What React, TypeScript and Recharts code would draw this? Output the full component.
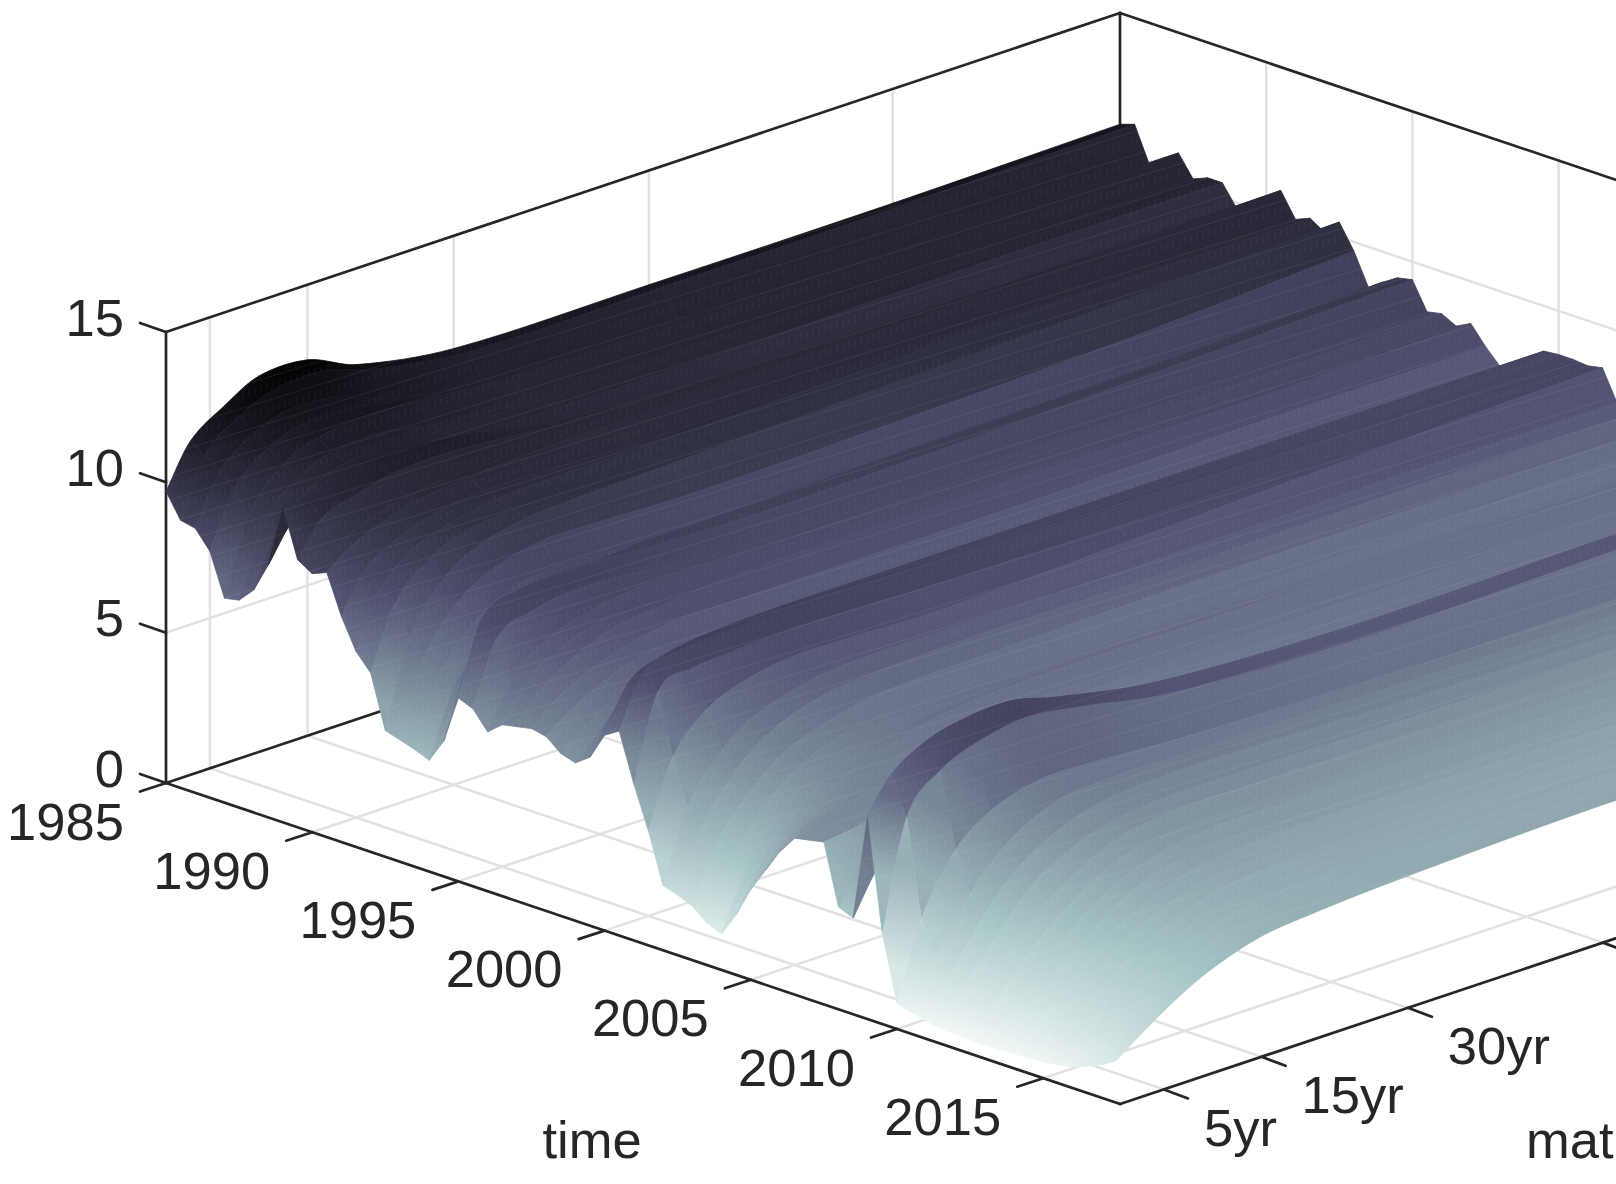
import React from "react";
import { ScatterChart, Scatter, XAxis, YAxis } from "recharts";

// ---- values -----------------------------------------------------------
const maturities = [0.5, 3, 6.5, 10, 15, 20, 30, 50, 75, 98.3];
const firstYear = 1985;
const yearStep = 0.5;

const yields1985 = [
  [9.7, 11.1, 11.9, 12.5, 12.5, 11.8, 11.25, 11.2, 11.2, 11.3],
  [8.9, 10.8, 11.7, 12.2, 12.3, 11.8, 11.3, 11.3, 11.35, 11.46],
  [8.8, 10.4, 11.3, 11.7, 11.6, 11.0, 10.5, 10.3, 10.3, 10.3],
  [8.2, 10.0, 11.0, 11.4, 11.4, 11.1, 10.7, 10.6, 10.6, 10.6],
  [6.8, 9.3, 10.6, 11.1, 11.3, 11.2, 11.0, 11.0, 11.0, 11.0],
  [6.9, 9.2, 10.3, 10.8, 10.9, 10.6, 10.3, 10.3, 10.3, 10.3],
  [7.4, 9.2, 10.2, 10.6, 10.7, 10.6, 10.5, 10.5, 10.5, 10.5],
  [8.4, 9.6, 10.2, 10.6, 10.7, 10.5, 10.4, 10.4, 10.5, 10.5],
  [10.5, 10.5, 10.8, 11.0, 11.0, 10.8, 10.3, 9.9, 9.8, 9.8],
  [8.9, 10.0, 10.4, 10.7, 10.8, 10.7, 10.4, 10.3, 10.2, 10.2],
];
const yields1990 = [
  [8.6, 9.2, 9.8, 10.1, 10.3, 10.3, 10.3, 10.3, 10.4, 10.5],
  [8.8, 9.4, 9.9, 10.2, 10.4, 10.5, 10.6, 10.7, 10.8, 10.9],
  [7.5, 8.8, 9.5, 9.9, 10.1, 10.1, 10.0, 10.0, 10.0, 10.1],
  [6.5, 8.3, 9.3, 9.7, 10.0, 10.1, 10.1, 10.2, 10.3, 10.3],
  [5.95, 8.0, 9.1, 9.6, 9.8, 9.8, 9.7, 9.7, 9.9, 10.0],
  [4.2, 7.0, 8.6, 9.3, 9.7, 9.8, 9.9, 10.1, 10.3, 10.5],
  [4.05, 6.5, 8.0, 8.7, 9.1, 9.1, 9.0, 9.1, 9.3, 9.7],
  [3.9, 6.0, 7.4, 8.1, 8.4, 8.3, 8.2, 8.2, 8.4, 8.65],
  [3.7, 5.8, 7.3, 8.0, 8.4, 8.5, 8.6, 8.7, 8.8, 9.0],
  [4.5, 6.8, 7.9, 8.4, 8.7, 8.9, 8.9, 9.0, 9.1, 9.3],
];
const yields1995 = [
  [6.1, 8.5, 9.0, 9.1, 9.1, 9.0, 8.9, 9.0, 9.2, 9.4],
  [5.9, 8.0, 8.5, 8.7, 8.7, 8.5, 8.3, 8.3, 8.4, 8.5],
  [5.3, 6.8, 7.7, 8.1, 8.4, 8.4, 8.4, 8.4, 8.5, 8.6],
  [5.7, 6.9, 7.6, 8.0, 8.1, 8.1, 8.1, 8.2, 8.3, 8.35],
  [5.8, 6.8, 7.5, 8.0, 8.2, 8.4, 8.5, 8.5, 8.5, 8.6],
  [5.9, 6.6, 7.2, 7.6, 7.9, 7.9, 7.9, 7.9, 8.0, 8.0],
  [5.8, 6.4, 7.0, 7.4, 7.5, 7.5, 7.4, 7.4, 7.5, 7.5],
  [5.4, 6.0, 6.8, 7.3, 7.6, 7.7, 7.8, 7.8, 7.8, 7.8],
  [5.25, 6.0, 6.9, 7.4, 7.8, 8.0, 8.1, 8.1, 8.1, 8.1],
  [5.6, 6.9, 7.8, 8.2, 8.4, 8.5, 8.5, 8.5, 8.5, 8.5],
];
const yields2000 = [
  [6.5, 8.0, 8.5, 8.7, 8.8, 8.8, 8.7, 8.6, 8.55, 8.55],
  [6.8, 8.5, 8.8, 8.9, 9.0, 9.0, 8.9, 8.7, 8.55, 8.55],
  [5.2, 8.0, 8.4, 8.5, 8.6, 8.6, 8.5, 8.4, 8.4, 8.5],
  [3.8, 6.0, 7.2, 7.7, 8.0, 8.0, 7.9, 8.1, 8.4, 8.6],
  [2.15, 4.5, 6.0, 6.8, 7.3, 7.5, 7.5, 7.5, 7.6, 7.6],
  [2.0, 4.0, 5.5, 6.4, 7.0, 7.2, 7.3, 7.3, 7.4, 7.4],
  [1.8, 3.6, 5.0, 5.9, 6.5, 6.8, 6.9, 7.0, 7.0, 7.0],
  [1.4, 3.2, 4.7, 5.6, 6.2, 6.4, 6.5, 6.5, 6.6, 6.7],
  [1.2, 3.0, 4.5, 5.5, 6.2, 6.5, 6.6, 6.6, 6.5, 6.5],
  [2.0, 3.4, 4.7, 5.6, 6.2, 6.5, 6.7, 6.7, 6.6, 6.6],
];
const yields2005 = [
  [3.0, 4.0, 5.0, 5.7, 6.3, 6.7, 6.9, 6.9, 6.8, 6.7],
  [3.8, 4.6, 5.3, 5.8, 6.2, 6.4, 6.5, 6.5, 6.6, 6.6],
  [4.6, 5.1, 5.5, 5.9, 6.2, 6.4, 6.5, 6.6, 6.6, 6.6],
  [5.2, 5.5, 5.8, 6.0, 6.2, 6.3, 6.3, 6.4, 6.5, 6.5],
  [5.3, 5.5, 5.7, 5.9, 6.1, 6.2, 6.3, 6.4, 6.5, 6.5],
  [5.4, 5.5, 5.7, 5.9, 6.2, 6.3, 6.4, 6.5, 6.6, 6.6],
  [3.4, 4.2, 5.0, 5.6, 6.2, 6.4, 6.5, 6.3, 6.1, 6.0],
  [3.2, 4.6, 5.8, 6.6, 7.3, 7.6, 7.6, 7.3, 7.2, 7.0],
  [6.8, 7.9, 8.6, 8.9, 9.0, 8.6, 8.0, 7.7, 7.8, 7.9],
  [3.0, 6.6, 7.8, 8.3, 8.6, 8.4, 7.8, 7.5, 7.6, 7.7],
];
const yields2010 = [
  [0.85, 3.4, 5.3, 6.2, 6.7, 6.7, 6.5, 6.3, 6.3, 6.3],
  [0.7, 2.3, 4.0, 5.2, 6.1, 6.3, 6.3, 6.2, 6.1, 6.1],
  [0.6, 1.9, 3.5, 4.7, 5.6, 6.0, 6.1, 5.9, 5.8, 5.8],
  [0.5, 1.7, 3.1, 4.3, 5.2, 5.6, 5.7, 5.6, 5.6, 5.6],
  [0.5, 1.5, 2.8, 3.9, 4.9, 5.4, 5.5, 5.4, 5.3, 5.3],
  [0.45, 1.4, 2.7, 3.7, 4.7, 5.1, 5.2, 5.2, 5.2, 5.2],
  [0.45, 1.3, 2.5, 3.5, 4.5, 5.0, 5.2, 5.1, 5.0, 5.0],
  [0.45, 1.3, 2.5, 3.4, 4.4, 4.8, 4.9, 4.9, 4.9, 4.9],
  [0.5, 1.3, 2.4, 3.3, 4.2, 4.7, 4.9, 4.8, 4.7, 4.7],
  [0.5, 1.3, 2.4, 3.3, 4.1, 4.5, 4.6, 4.6, 4.6, 4.6],
];
const yields2015 = [
  [0.55, 1.4, 2.4, 3.2, 4.0, 4.4, 4.6, 4.6, 4.5, 4.5],
  [0.6, 1.5, 2.4, 3.2, 3.9, 4.2, 4.4, 4.4, 4.5, 4.5],
  [0.7, 1.6, 2.5, 3.2, 3.9, 4.2, 4.4, 4.5, 4.4, 4.4],
  [0.9, 1.7, 2.5, 3.2, 3.8, 4.1, 4.3, 4.4, 4.4, 4.4],
  [1.1, 1.8, 2.6, 3.2, 3.8, 4.1, 4.3, 4.4, 4.4, 4.4],
  [1.4, 2.0, 2.75, 3.35, 3.9, 4.1, 4.3, 4.5, 4.5, 4.5],
];
const yieldRows = [...yields1985, ...yields1990, ...yields1995, ...yields2000, ...yields2005, ...yields2010, ...yields2015];

const timeTicks = [1985, 1990, 1995, 2000, 2005, 2010, 2015];
const maturityTicks = [5, 15, 30, 50, 75];
const maturityLabelTicks = [5, 15, 30];
const maturityLabels = ["5yr", "15yr", "30yr"];
const heightTicks = [0, 5, 10, 15];

// ---- view of the box ----------------------------------------------------
const W = 2100;
const H = 1184;
const T0 = 1985;
const T1 = 2017.63;
const M0 = 0.5;
const M1 = 98.3;
const ZTOP = 15;
const INK = "#262626";
const GRID = "#e1e1e1";
const FONT = "'Liberation Sans', Arial, sans-serif";
const NEAR_WEIGHT = 0.8;

const project = (t: number, m: number, z: number) => {
  const dt = t - T0;
  const mx = (m - M0) * (954 / (M1 - M0));
  return { x: 166 + 29.24 * dt + mx, y: 783 + 9.84 * dt - 0.3344 * mx - (451 / 15) * z };
};

// reversed "bone" colour map
const BONE: [number, number, number, number][] = [
  [0, 0, 0, 0],
  [0.375, 0.319, 0.319, 0.444],
  [0.75, 0.653, 0.778, 0.778],
  [1, 1, 1, 1],
];
const ZCOLOR_MAX = 12.6;
const bone = (z: number) => {
  const v = Math.min(1, Math.max(0, 1 - z / ZCOLOR_MAX));
  let k = 0;
  while (k < BONE.length - 2 && v > BONE[k + 1][0]) k++;
  const a = BONE[k];
  const b = BONE[k + 1];
  const f = (v - a[0]) / (b[0] - a[0]);
  const c = [1, 2, 3].map((i) => Math.round(255 * (a[i] + (b[i] - a[i]) * f)));
  return `rgb(${c[0]},${c[1]},${c[2]})`;
};

// ---- marks, all placed by the chart's own scales ------------------------
type P = { x: number; y: number };
type Seg = { x: number; y: number; dx: number; dy: number; color: string; width: number };
const seg = (a: P, b: P, color: string, width: number): Seg => ({ x: a.x, y: a.y, dx: b.x - a.x, dy: b.y - a.y, color, width });

const GW = 2.5;
const AW = 2.7;
const gridSegs: Seg[] = [];
timeTicks.slice(1).forEach((t) => {
  gridSegs.push(seg(project(t, M0, 0), project(t, M1, 0), GRID, GW));
  gridSegs.push(seg(project(t, M1, 0), project(t, M1, ZTOP), GRID, GW));
});
maturityTicks.forEach((m) => {
  gridSegs.push(seg(project(T0, m, 0), project(T1, m, 0), GRID, GW));
  gridSegs.push(seg(project(T0, m, 0), project(T0, m, ZTOP), GRID, GW));
});
heightTicks.slice(1, 3).forEach((z) => {
  gridSegs.push(seg(project(T0, M0, z), project(T0, M1, z), GRID, GW));
  gridSegs.push(seg(project(T0, M1, z), project(T1, M1, z), GRID, GW));
});

const boxSegs: Seg[] = [
  seg(project(T0, M0, 0), project(T1, M0, 0), INK, AW),
  seg(project(T1, M0, 0), project(T1, M1, 0), INK, AW),
  seg(project(T0, M0, 0), project(T0, M1, 0), INK, AW),
  seg(project(T0, M0, 0), project(T0, M0, ZTOP), INK, AW),
  seg(project(T0, M0, ZTOP), project(T0, M1, ZTOP), INK, AW),
  seg(project(T0, M1, ZTOP), project(T1, M1, ZTOP), INK, AW),
  seg(project(T0, M1, 0), project(T0, M1, ZTOP), INK, AW),
];
const tickSeg = (p: P, dx: number, dy: number): Seg => ({ x: p.x, y: p.y, dx, dy, color: INK, width: AW });
heightTicks.forEach((z) => boxSegs.push(tickSeg(project(T0, M0, z), -26, -9)));
timeTicks.forEach((t) => boxSegs.push(tickSeg(project(t, M0, 0), -26, 8.5)));
maturityTicks.forEach((m) => boxSegs.push(tickSeg(project(T1, m, 0), 24, 9)));

const backdrop = [...gridSegs, ...boxSegs];

// curve along one row of the surface, drawn smoothly from column j to column j+1
const rowCurve = (t: number, row: number[], j: number): [P, P, P, P] => {
  const pt = (k: number) => project(t, maturities[k], row[k]);
  const slope = (k: number) => {
    const lo = Math.max(0, k - 1);
    const hi = Math.min(row.length - 1, k + 1);
    const a = pt(lo);
    const b = pt(hi);
    const dm = maturities[hi] - maturities[lo];
    return { x: (b.x - a.x) / dm, y: (b.y - a.y) / dm };
  };
  const h = (maturities[j + 1] - maturities[j]) / 3;
  const s0 = slope(j);
  const s1 = slope(j + 1);
  const p0 = pt(j);
  const p1 = pt(j + 1);
  return [p0, { x: p0.x + s0.x * h, y: p0.y + s0.y * h }, { x: p1.x - s1.x * h, y: p1.y - s1.y * h }, p1];
};

type Quad = { x: number; y: number; pts: [number, number][]; from: [number, number]; to: [number, number]; c0: string; c1: string; id: string };
const quads: Quad[] = [];
for (let i = 0; i < yieldRows.length - 1; i++) {
  const ta = firstYear + i * yearStep;
  const tb = firstYear + (i + 1) * yearStep;
  const mix = (k: number) => yieldRows[i][k] * (1 - NEAR_WEIGHT) + yieldRows[i + 1][k] * NEAR_WEIGHT;
  for (let j = maturities.length - 2; j >= 0; j--) {
    const far = rowCurve(ta, yieldRows[i], j);
    const near = rowCurve(tb, yieldRows[i + 1], j);
    const a = far[0];
    const rel = (p: P): [number, number] => [p.x - a.x, p.y - a.y];
    const p0 = { x: (far[0].x + near[0].x) / 2, y: (far[0].y + near[0].y) / 2 };
    const p1 = { x: (far[3].x + near[3].x) / 2, y: (far[3].y + near[3].y) / 2 };
    quads.push({
      x: a.x,
      y: a.y,
      pts: [far[0], far[1], far[2], far[3], near[3], near[2], near[1], near[0]].map(rel),
      from: rel(p0),
      to: rel(p1),
      c0: bone(mix(j)),
      c1: bone(mix(j + 1)),
      id: `q${i}_${j}`,
    });
  }
}

type Lab = { x: number; y: number; text: string; anchor: string };
const labels: Lab[] = [];
heightTicks.forEach((z) => {
  const p = project(T0, M0, z);
  labels.push({ x: 124, y: p.y - 15, text: String(z), anchor: "end" });
});
timeTicks.forEach((t) => {
  const p = project(t, M0, 0);
  labels.push({ x: p.x - 100.5, y: p.y + 38, text: String(t), anchor: "middle" });
});
maturityLabelTicks.forEach((m, i) => {
  const p = project(T1, m, 0);
  labels.push({ x: p.x + 40, y: p.y + 38, text: maturityLabels[i], anchor: "start" });
});
labels.push({ x: 592, y: 1139, text: "time", anchor: "middle" });
labels.push({ x: 1526, y: 1139, text: "maturity", anchor: "start" });

const SegShape = (props: any) => {
  const s: Seg = props.payload;
  return <line x1={props.cx} y1={props.cy} x2={props.cx + s.dx} y2={props.cy + s.dy} stroke={s.color} strokeWidth={s.width} strokeLinecap="round" />;
};
const QuadShape = (props: any) => {
  const q: Quad = props.payload;
  const { cx, cy } = props;
  const paint = `url(#${q.id})`;
  const s = q.pts.map((p) => `${(cx + p[0]).toFixed(2)} ${(cy + p[1]).toFixed(2)}`);
  const d = `M${s[0]} C${s[1]} ${s[2]} ${s[3]} L${s[4]} C${s[5]} ${s[6]} ${s[7]} Z`;
  return (
    <g>
      <defs>
        <linearGradient id={q.id} gradientUnits="userSpaceOnUse" x1={cx + q.from[0]} y1={cy + q.from[1]} x2={cx + q.to[0]} y2={cy + q.to[1]}>
          <stop offset="0" stopColor={q.c0} />
          <stop offset="1" stopColor={q.c1} />
        </linearGradient>
        {q.id === "q0_8" ? (
          <pattern id="mesh" patternUnits="userSpaceOnUse" width={6} height={23} patternTransform="matrix(1 -0.31 0 1 0 0)">
            <path d="M0 0.4H6" stroke="#fff" strokeOpacity={0.12} strokeWidth={0.6} fill="none" />
            <path d="M3 6V13" stroke="#fff" strokeOpacity={0.09} strokeWidth={0.6} fill="none" />
          </pattern>
        ) : null}
      </defs>
      <path d={d} fill={paint} stroke={paint} strokeWidth={0.8} strokeLinejoin="round" />
      <path d={d} fill="url(#mesh)" stroke="none" />
    </g>
  );
};
const LabelShape = (props: any) => {
  const l: Lab = props.payload;
  return (
    <text x={props.cx} y={props.cy} textAnchor={l.anchor as any} dominantBaseline="central" fontFamily={FONT} fontSize={52.5} fill={INK}>
      {l.text}
    </text>
  );
};

export default function App() {
  return (
    <div style={{ position: "fixed", left: 0, top: 0, width: 1616, height: 1184, overflow: "hidden", background: "#fff" }}>
      <ScatterChart width={W} height={H} margin={{ top: 0, right: 0, bottom: 0, left: 0 }}>
        <XAxis type="number" dataKey="x" domain={[0, W]} hide />
        <YAxis type="number" dataKey="y" domain={[0, H]} reversed hide />
        <Scatter data={backdrop} shape={SegShape} isAnimationActive={false} />
        <Scatter data={quads} shape={QuadShape} isAnimationActive={false} />
        <Scatter data={labels} shape={LabelShape} isAnimationActive={false} />
      </ScatterChart>
    </div>
  );
}
